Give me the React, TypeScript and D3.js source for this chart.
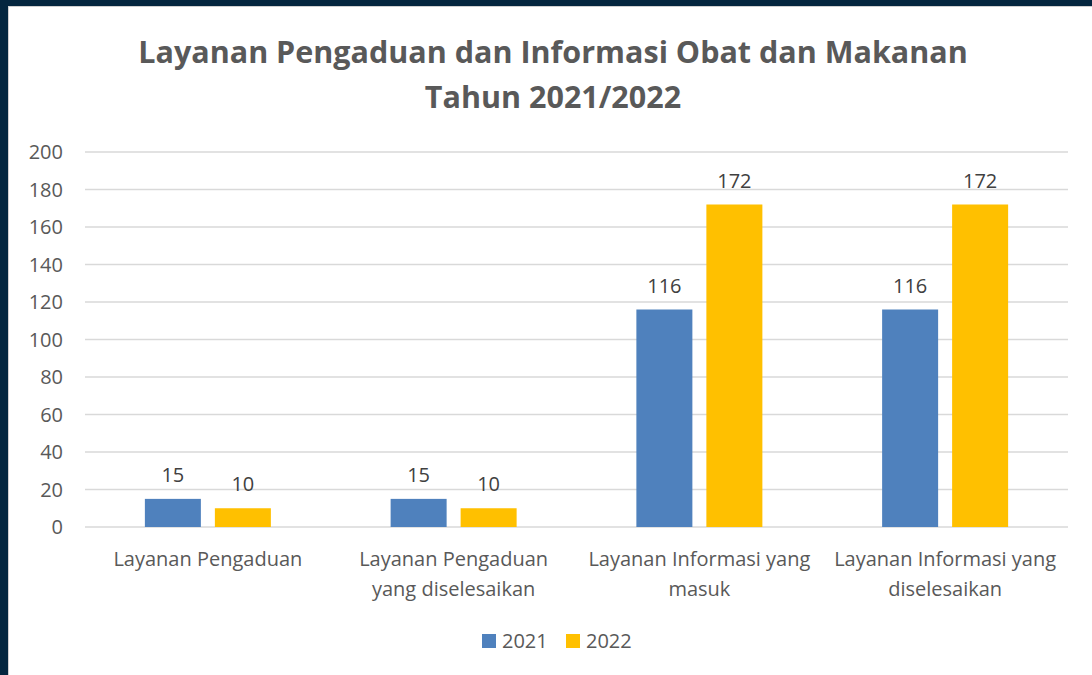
import React from "react";
import * as d3 from "d3";

const title = ["Layanan Pengaduan dan Informasi Obat dan Makanan", "Tahun 2021/2022"];
const categories = [
  ["Layanan Pengaduan"],
  ["Layanan Pengaduan", "yang diselesaikan"],
  ["Layanan Informasi yang", "masuk"],
  ["Layanan Informasi yang", "diselesaikan"],
];
const seriesNames = ["2021", "2022"];
const values2021 = [15, 15, 116, 116];
const values2022 = [10, 10, 172, 172];
const yTicks = [0, 20, 40, 60, 80, 100, 120, 140, 160, 180, 200];

const colors = ["#4F81BD", "#FFC000"];
const W = 1092;
const H = 675;
const font = "'Open Sans', 'Noto Sans', sans-serif";
const textColor = "#595959";

export default function App() {
  const x = d3.scaleBand<number>().domain(d3.range(categories.length)).range([85, 1068]);
  const y = d3.scaleLinear().domain([0, 200]).range([527, 152]);
  const barW = 56;
  const gap = 14;
  const series = [values2021, values2022];

  return (
    <svg width={W} height={H} style={{ position: "absolute", left: 0, top: 0 }} fontFamily={font}>
      <rect x={0} y={0} width={W} height={H} fill="#04263F" />
      <rect x={8.5} y={6.5} width={W} height={H} fill="#fff" stroke="#d0d0d0" strokeWidth={1} />

      {title.map((t, i) => (
        <text key={i} x={553} y={63 + i * 45} textAnchor="middle" fontSize={30.5} fontWeight="bold" fill={textColor}>
          {t}
        </text>
      ))}

      {yTicks.map((t) => (
        <g key={t}>
          <line x1={85} x2={1068} y1={y(t)} y2={y(t)} stroke="#d9d9d9" strokeWidth={1.5} />
          <text x={63} y={y(t)} dy="0.36em" textAnchor="end" fontSize={20} fill={textColor}>
            {t}
          </text>
        </g>
      ))}

      {categories.map((lines, i) => {
        const c = (x(i) as number) + x.bandwidth() / 2;
        return (
          <g key={i}>
            {series.map((vals, s) => {
              const bx = s === 0 ? c - gap / 2 - barW : c + gap / 2;
              return (
                <g key={s}>
                  <rect x={bx} y={y(vals[i])} width={barW} height={y(0) - y(vals[i])} fill={colors[s]} />
                  <text x={bx + barW / 2} y={y(vals[i]) - 17} textAnchor="middle" fontSize={20} fill="#404040">
                    {vals[i]}
                  </text>
                </g>
              );
            })}
            {lines.map((l, k) => (
              <text key={k} x={c} y={566 + k * 30} textAnchor="middle" fontSize={20} fill={textColor}>
                {l}
              </text>
            ))}
          </g>
        );
      })}

      {seriesNames.map((n, s) => (
        <g key={n} transform={`translate(${482 + s * 84},634)`}>
          <rect x={0} y={0} width={14} height={14} fill={colors[s]} />
          <text x={20} y={7} dy="0.36em" fontSize={20} fill={textColor}>
            {n}
          </text>
        </g>
      ))}
    </svg>
  );
}
